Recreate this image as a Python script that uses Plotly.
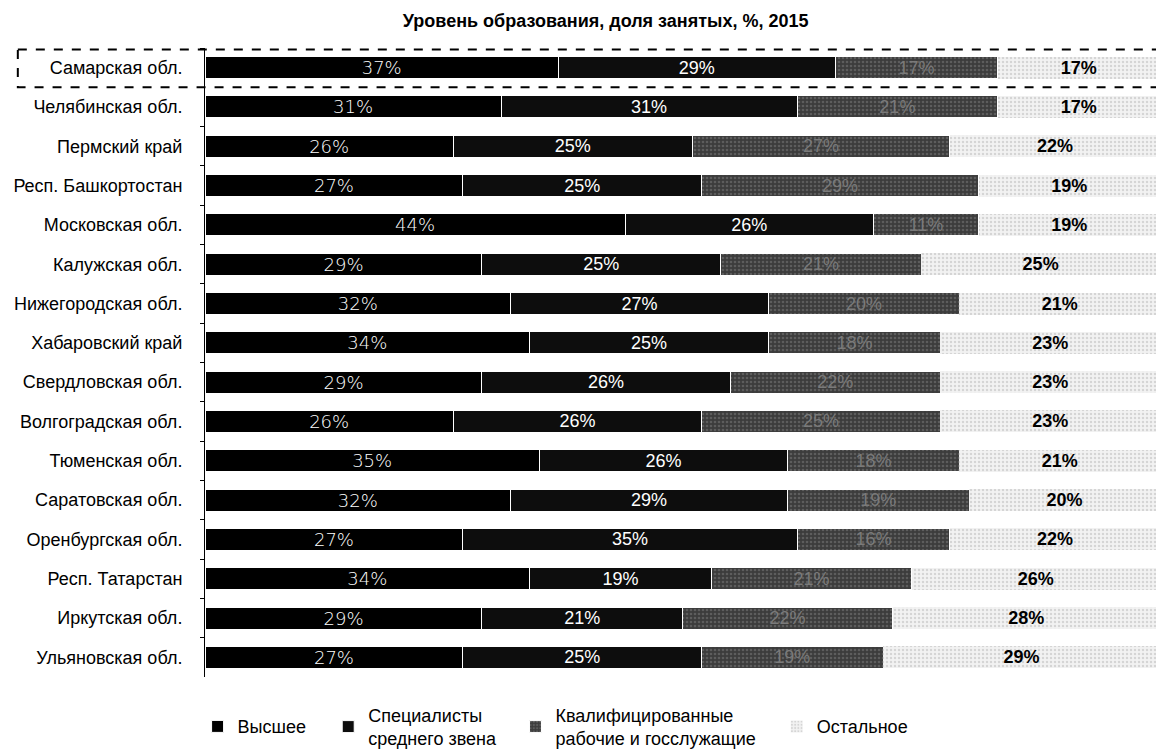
import plotly.graph_objects as go

regions = ['Самарская обл.', 'Челябинская обл.', 'Пермский край', 'Респ. Башкортостан',
           'Московская обл.', 'Калужская обл.', 'Нижегородская обл.', 'Хабаровский край',
           'Свердловская обл.', 'Волгоградская обл.', 'Тюменская обл.', 'Саратовская обл.',
           'Оренбургская обл.', 'Респ. Татарстан', 'Иркутская обл.', 'Ульяновская обл.']

vysshee = [37, 31, 26, 27, 44, 29, 32, 34, 29, 26, 35, 32, 27, 34, 29, 27]
specialisty = [29, 31, 25, 25, 26, 25, 27, 25, 26, 26, 26, 29, 35, 19, 21, 25]
kvalif = [17, 21, 27, 29, 11, 21, 20, 18, 22, 25, 18, 19, 16, 21, 22, 19]
ostalnoe = [17, 17, 22, 19, 19, 25, 21, 23, 23, 23, 21, 20, 22, 26, 28, 29]

FONT = 'Liberation Sans, Arial, sans-serif'
THIN = 'DejaVu Sans, sans-serif'

fig = go.Figure()

fig.add_trace(go.Bar(
    y=regions, x=vysshee, orientation='h', name='Высшее', legend='legend',
    text=[f'{v}%' for v in vysshee], textposition='inside', insidetextanchor='middle',
    textangle=0, textfont=dict(color='white', size=18, family=THIN, weight=300),
    marker=dict(color='#000000', line=dict(color='white', width=1))
))
fig.add_trace(go.Bar(
    y=regions, x=specialisty, orientation='h', name='Специалисты<br>среднего звена', legend='legend2',
    text=[f'{v}%' for v in specialisty], textposition='inside', insidetextanchor='middle',
    textangle=0, textfont=dict(color='white', size=18, family=FONT),
    marker=dict(color='#0d0d0d', line=dict(color='white', width=1))
))
fig.add_trace(go.Bar(
    y=regions, x=kvalif, orientation='h', name='Квалифицированные<br>рабочие и госслужащие', legend='legend3',
    text=[f'{v}%' for v in kvalif], textposition='inside', insidetextanchor='middle',
    textangle=0, textfont=dict(color='#7a7a7a', size=18, family=FONT),
    marker=dict(color='#4a4a4a', line=dict(color='white', width=1),
                pattern=dict(shape='.', fgcolor='#7d7d7d', bgcolor='#3c3c3c', size=4, solidity=0.35))
))
fig.add_trace(go.Bar(
    y=regions, x=ostalnoe, orientation='h', name='Остальное', legend='legend4',
    text=[f'<b>{v}%</b>' for v in ostalnoe], textposition='inside', insidetextanchor='middle',
    textangle=0, textfont=dict(color='black', size=18, family=FONT),
    marker=dict(color='#e2e2e2', line=dict(color='white', width=0),
                pattern=dict(shape='.', fgcolor='#b8b8b8', bgcolor='#f2f2f2', size=4, solidity=0.3))
))

# пунктирная рамка вокруг Самарской обл.
fig.add_shape(type='rect', xref='paper', yref='y', x0=-0.196, x1=1.004, y0=-0.46, y1=0.5,
              line=dict(color='black', width=2, dash='dash'))

leg = dict(orientation='h', xref='container', yref='container', xanchor='left',
           yanchor='middle', y=0.034, bgcolor='rgba(0,0,0,0)',
           font=dict(size=18, family=FONT, color='black'))

# страница html имеет отступ 8px, поэтому фигура чуть меньше окна
fig.update_layout(
    width=1156, height=744,
    barmode='stack', bargap=0.44,
    showlegend=True,
    uniformtext=dict(minsize=18, mode='show'),
    title=dict(text='<b>Уровень образования, доля занятых, %, 2015</b>', xref='container', x=0.517, y=0.983,
               xanchor='center', yanchor='middle', font=dict(size=18, family=FONT, color='black')),
    paper_bgcolor='white', plot_bgcolor='white',
    margin=dict(l=197, r=4, t=40, b=75, autoexpand=False),
    font=dict(family=FONT, color='black'),
    xaxis=dict(range=[0, 100], visible=False, showgrid=False),
    yaxis=dict(autorange='reversed', showline=True, linecolor='black', linewidth=1,
               ticks='outside', tickson='boundaries', ticklen=4, tickcolor='black',
               ticklabelstandoff=18, automargin=False,
               tickfont=dict(size=18, family=FONT, color='black'),
               showgrid=False),
    legend=dict(leg, x=0.164),
    legend2=dict(leg, x=0.277),
    legend3=dict(leg, x=0.439),
    legend4=dict(leg, x=0.665),
)

fig.write_html('out.html')
